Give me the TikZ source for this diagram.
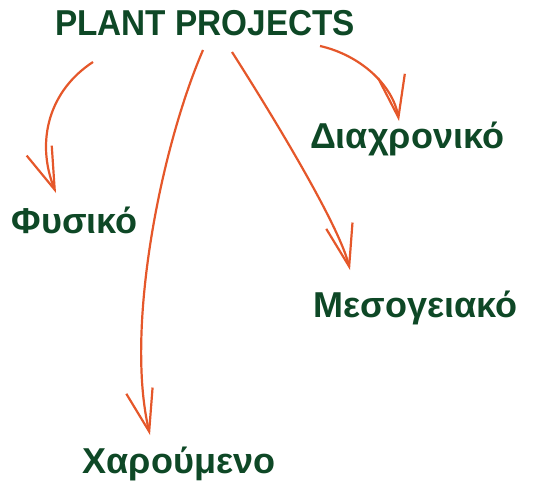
\documentclass[tikz,border=0pt]{standalone}
\usepackage{fontspec}
\setmainfont{Liberation Sans}
\newfontfamily\headfont{Liberation Sans}[FakeStretch=0.925]
\usepackage{xcolor}
\usepackage{tikz}
\usetikzlibrary{arrows.meta}
\definecolor{ppgreen}{RGB}{14,72,38}
\definecolor{pporange}{RGB}{229,87,42}

\begin{document}
\begin{tikzpicture}[
  x=1pt, y=-1pt,
  heading/.style={text=ppgreen, font=\headfont\fontsize{36}{40}\selectfont\bfseries, inner sep=0pt, anchor=base},
  leaf/.style={text=ppgreen, font=\fontsize{36}{40}\selectfont\bfseries, inner sep=0pt, anchor=base},
  arr/.style={-{Straight Barb[length=42pt, width=27pt, line width=2.2pt]}, line width=2.2pt, pporange}
]
\useasboundingbox (0,0) rectangle (537,484);
\node[heading] (title) at (205,36) {PLANT PROJECTS};
\node[leaf] (fysiko) at (74.5,233) {Φυσικό};
\node[leaf] (diachroniko) at (407,148) {Διαχρονικό};
\node[leaf] (mesogeiako) at (415.5,317) {Μεσογειακό};
\node[leaf] (charoumeno) at (179,473) {Χαρούμενο};
\coordinate (outF) at (93,62);
\coordinate (outX) at (203,50);
\coordinate (outM) at (232,52);
\coordinate (outD) at (320,46);
\draw[arr] (outF) .. controls (50,90) and (35,140) .. ([xshift=-18.5pt, yshift=40pt]fysiko.base);
\draw[arr] (outX) .. controls (160,150) and (125,330) .. ([xshift=-29pt, yshift=38pt]charoumeno.base);
\draw[arr] (outM) .. controls (255,88) and (338,220) .. ([xshift=-65.5pt, yshift=47pt]mesogeiako.base);
\draw[arr] (outD) .. controls (360,55) and (393,85) .. ([xshift=-8pt, yshift=27pt]diachroniko.base);
\end{tikzpicture}
\end{document}
